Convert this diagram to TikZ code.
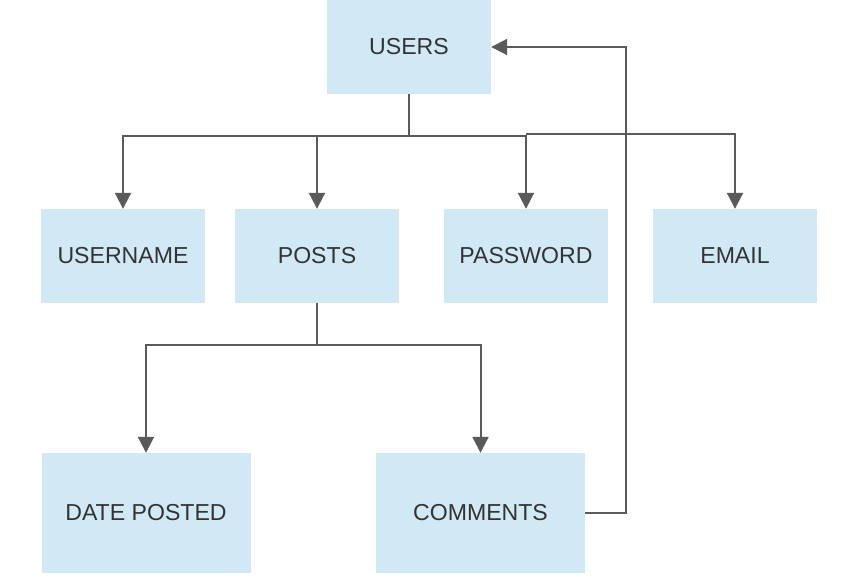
\documentclass[tikz,border=0pt]{standalone}
\usepackage{fontspec}
\setmainfont{Liberation Sans}
\usetikzlibrary{arrows.meta}
\definecolor{boxfill}{HTML}{D1E8F5}
\definecolor{txt}{HTML}{333333}
\definecolor{ln}{HTML}{5A5A5A}
\begin{document}
\begin{tikzpicture}[x=1pt,y=-1pt,
  box/.style={fill=boxfill,draw=none,inner sep=0pt,text=txt,font=\fontsize{23.1}{26}\selectfont},
  conn/.style={draw=ln,line width=2pt},
  arr/.style={conn,-{Triangle[width=16pt,length=16pt]}}]
\useasboundingbox (0,0) rectangle (849,587);
\node[box,minimum width=164pt,minimum height=94pt] (users) at (409,47) {USERS};
\node[box,minimum width=164pt,minimum height=94pt] (username) at (123,256) {USERNAME};
\node[box,minimum width=164pt,minimum height=94pt] (posts) at (317,256) {POSTS};
\node[box,minimum width=164pt,minimum height=94pt] (password) at (526,256) {PASSWORD};
\node[box,minimum width=164pt,minimum height=94pt] (email) at (735,256) {EMAIL};
\node[box,minimum width=209pt,minimum height=120pt] (date) at (146,513) {DATE POSTED};
\node[box,minimum width=209pt,minimum height=120pt] (comments) at (480.5,513) {COMMENTS};
\coordinate (j1) at (409,136);
\coordinate (j2) at (317,345);
\draw[conn] (users.south) -- (j1);
\draw[arr] (j1) -| (username.north);
\draw[arr] (j1) -| (posts.north);
\draw[arr] (j1) -| (password.north);
\draw[arr] (password.north |- 0,134) -| (email.north);
\draw[conn] (posts.south) -- (j2);
\draw[arr] (j2) -| (date.north);
\draw[arr] (j2) -| (comments.north);
\draw[arr] (comments.east) -- (626,513) |- (users.east);
\end{tikzpicture}
\end{document}
